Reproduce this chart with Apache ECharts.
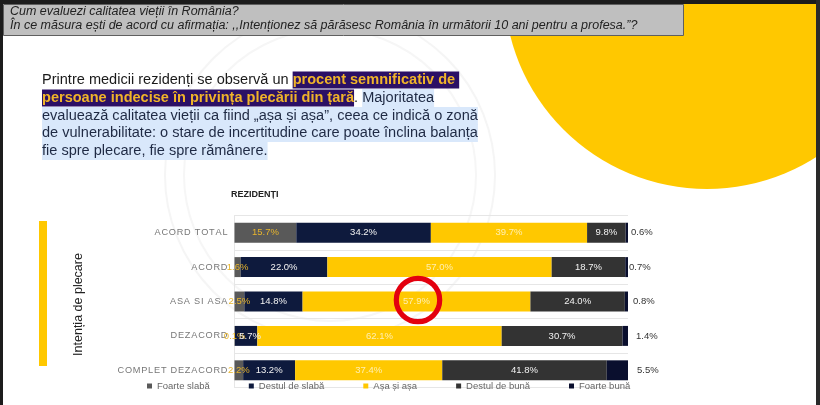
<!DOCTYPE html>
<html><head><meta charset="utf-8">
<style>html,body{margin:0;padding:0;background:#fff}#c{width:820px;height:405px}</style>
<script src="https://cdn.jsdelivr.net/npm/echarts@6/dist/echarts.min.js"></script>
</head><body><div id="c"></div>
<script>
const categories = ["ACORD TOTAL","ACORD","ASA SI ASA","DEZACORD","COMPLET DEZACORD"];
const foarteSlaba = [15.7,1.6,2.5,0.1,2.2];
const destulSlaba = [34.2,22.0,14.8,5.7,13.2];
const asaSiAsa = [39.7,57.0,57.9,62.1,37.4];
const destulBuna = [9.8,18.7,24.0,30.7,41.8];
const foarteBuna = [0.6,0.7,0.8,1.4,5.5];
const seriesNames = ["Foarte slabă","Destul de slabă","Așa și așa","Destul de bună","Foarte bună"];
const headerLines = ["Cum evaluezi calitatea vieții în România?","În ce măsura ești de acord cu afirmația: ,,Intenționez să părăsesc România în următorii 10 ani pentru a profesa.”?"];

const FONT = '"Liberation Sans",Arial,sans-serif';
const chart = echarts.init(document.getElementById('c'));
const fmt = p => p.value.toFixed(1) + '%';
const colors = ['#595959','#0E1A3D','#FFC800','#333333','#0A0F2E'];
const labelColors = ['#E8B52C','#F2F2F2','#FFEFB0','#F2F2F2','#333333'];
const lastLabelGap = [3,1,5,8,9];
const datasets = [foarteSlaba,destulSlaba,asaSiAsa,destulBuna,foarteBuna];

const series = datasets.map((d,i)=>({
  name: seriesNames[i], type:'bar', stack:'t', barWidth:'58%',
  data: d.map((v,j)=>{
    if (i===4) return {value:v,label:{distance:lastLabelGap[j]}};
    if (i===1 && j===3) return {value:v,label:{offset:[4,0]}};
    return v;
  }),
  itemStyle:{color:colors[i]},
  z: 3,
  label:{show:true, position:i<4?'inside':'right', formatter:fmt, color:labelColors[i], fontSize:9.5, fontFamily:FONT}
}));

const txt = (x,y,text,style) => ({type:'text',x,y,z:20,silent:true,style:Object.assign({text,fontFamily:FONT,fill:'#1a1a1a',verticalAlign:'middle'},style||{})});
const body = [
 {y:80, rich:'{n|Printre medicii rezidenți se observă un }{p|procent semnificativ de }'},
 {y:98, rich:'{p|persoane indecise în privința plecării din țară}{n|. }{b|Majoritatea}'},
 {y:116,rich:'{b|evaluează calitatea vieții ca fiind „așa și așa”, ceea ce indică o zonă}'},
 {y:133,rich:'{b|de vulnerabilitate: o stare de incertitudine care poate înclina balanța}'},
 {y:151,rich:'{b|fie spre plecare, fie spre rămânere.}'}
];
const richStyles = {
  n:{fontSize:14.55,fontFamily:FONT,fill:'#1a1a1a',lineHeight:18,height:18},
  p:{fontSize:14.55,fontFamily:FONT,fontWeight:'bold',fill:'#F0B429',backgroundColor:'#2B1065',lineHeight:18,height:17},
  b:{fontSize:14.55,fontFamily:FONT,fill:'#1f2a44',backgroundColor:'#D9E8FB',lineHeight:18,height:18}
};

chart.setOption({
  animation:false,
  backgroundColor:'#fff',
  textStyle:{fontFamily:FONT},
  grid:{left:234.5,top:215.5,width:393.5,height:172},
  legend:{show:true,left:142,top:376,itemWidth:5,itemHeight:5,itemGap:39,icon:'rect',
    textStyle:{fontSize:9.5,color:'#666',fontFamily:FONT},data:seriesNames},
  xAxis:{type:'value',min:0,max:100,show:false},
  yAxis:{type:'category',inverse:true,data:categories,
    axisTick:{show:false},
    axisLine:{show:true,lineStyle:{color:'#e6e6e6'}},
    splitLine:{show:true,interval:0,lineStyle:{color:'#e6e6e6'}},
    axisLabel:{margin:7,fontSize:9.2,color:'#777',fontFamily:FONT,
      formatter:v=>v.split('').join('\u200A')}},
  series,
  graphic:[
    {type:'circle',z:-5,silent:true,shape:{cx:330,cy:175,r:165},style:{fill:'none',stroke:'#f5f5f5',lineWidth:2}},
    {type:'circle',z:-5,silent:true,shape:{cx:330,cy:175,r:146},style:{fill:'none',stroke:'#f6f6f6',lineWidth:2}},
    {type:'circle',z:1,silent:true,shape:{cx:707,cy:-14,r:203},style:{fill:'#FFC800'}},
    {type:'rect',z:30,silent:true,shape:{x:0,y:0,width:820,height:4},style:{fill:'#1c1c1c'}},
    {type:'rect',z:30,silent:true,shape:{x:0,y:0,width:3,height:405},style:{fill:'#1c1c1c'}},
    {type:'rect',z:30,silent:true,shape:{x:816,y:0,width:4,height:405},style:{fill:'#2a2a2a'}},
    {type:'rect',z:10,silent:true,shape:{x:3.5,y:4.5,width:680,height:31},style:{fill:'#BFBFBF',stroke:'#5f5f5f',lineWidth:1}},
    txt(10,12,headerLines[0],{fontSize:12.5,fontStyle:'italic',fill:'#222'}),
    txt(10,26,headerLines[1],{fontSize:12.5,fontStyle:'italic',fill:'#222'}),
    ...body.map(l=>({type:'text',x:42,y:l.y,z:20,silent:true,style:{text:l.rich,rich:richStyles,fontFamily:FONT,verticalAlign:'middle'}})),
    txt(231,195,'REZIDENȚI',{fontSize:9,fontWeight:'bold',fill:'#222'}),
    {type:'rect',z:5,silent:true,shape:{x:39,y:221,width:8,height:145},style:{fill:'#FFC800'}},
    {type:'text',z:20,silent:true,x:78.5,y:304.5,rotation:Math.PI/2,style:{text:'Intenția de plecare',fontFamily:FONT,fontSize:12.5,fill:'#222',align:'center',verticalAlign:'middle'}},
    {type:'circle',z:25,silent:true,shape:{cx:418,cy:300,r:21.7},style:{fill:'none',stroke:'#E3000F',lineWidth:5.2}}
  ]
});
</script></body></html>
